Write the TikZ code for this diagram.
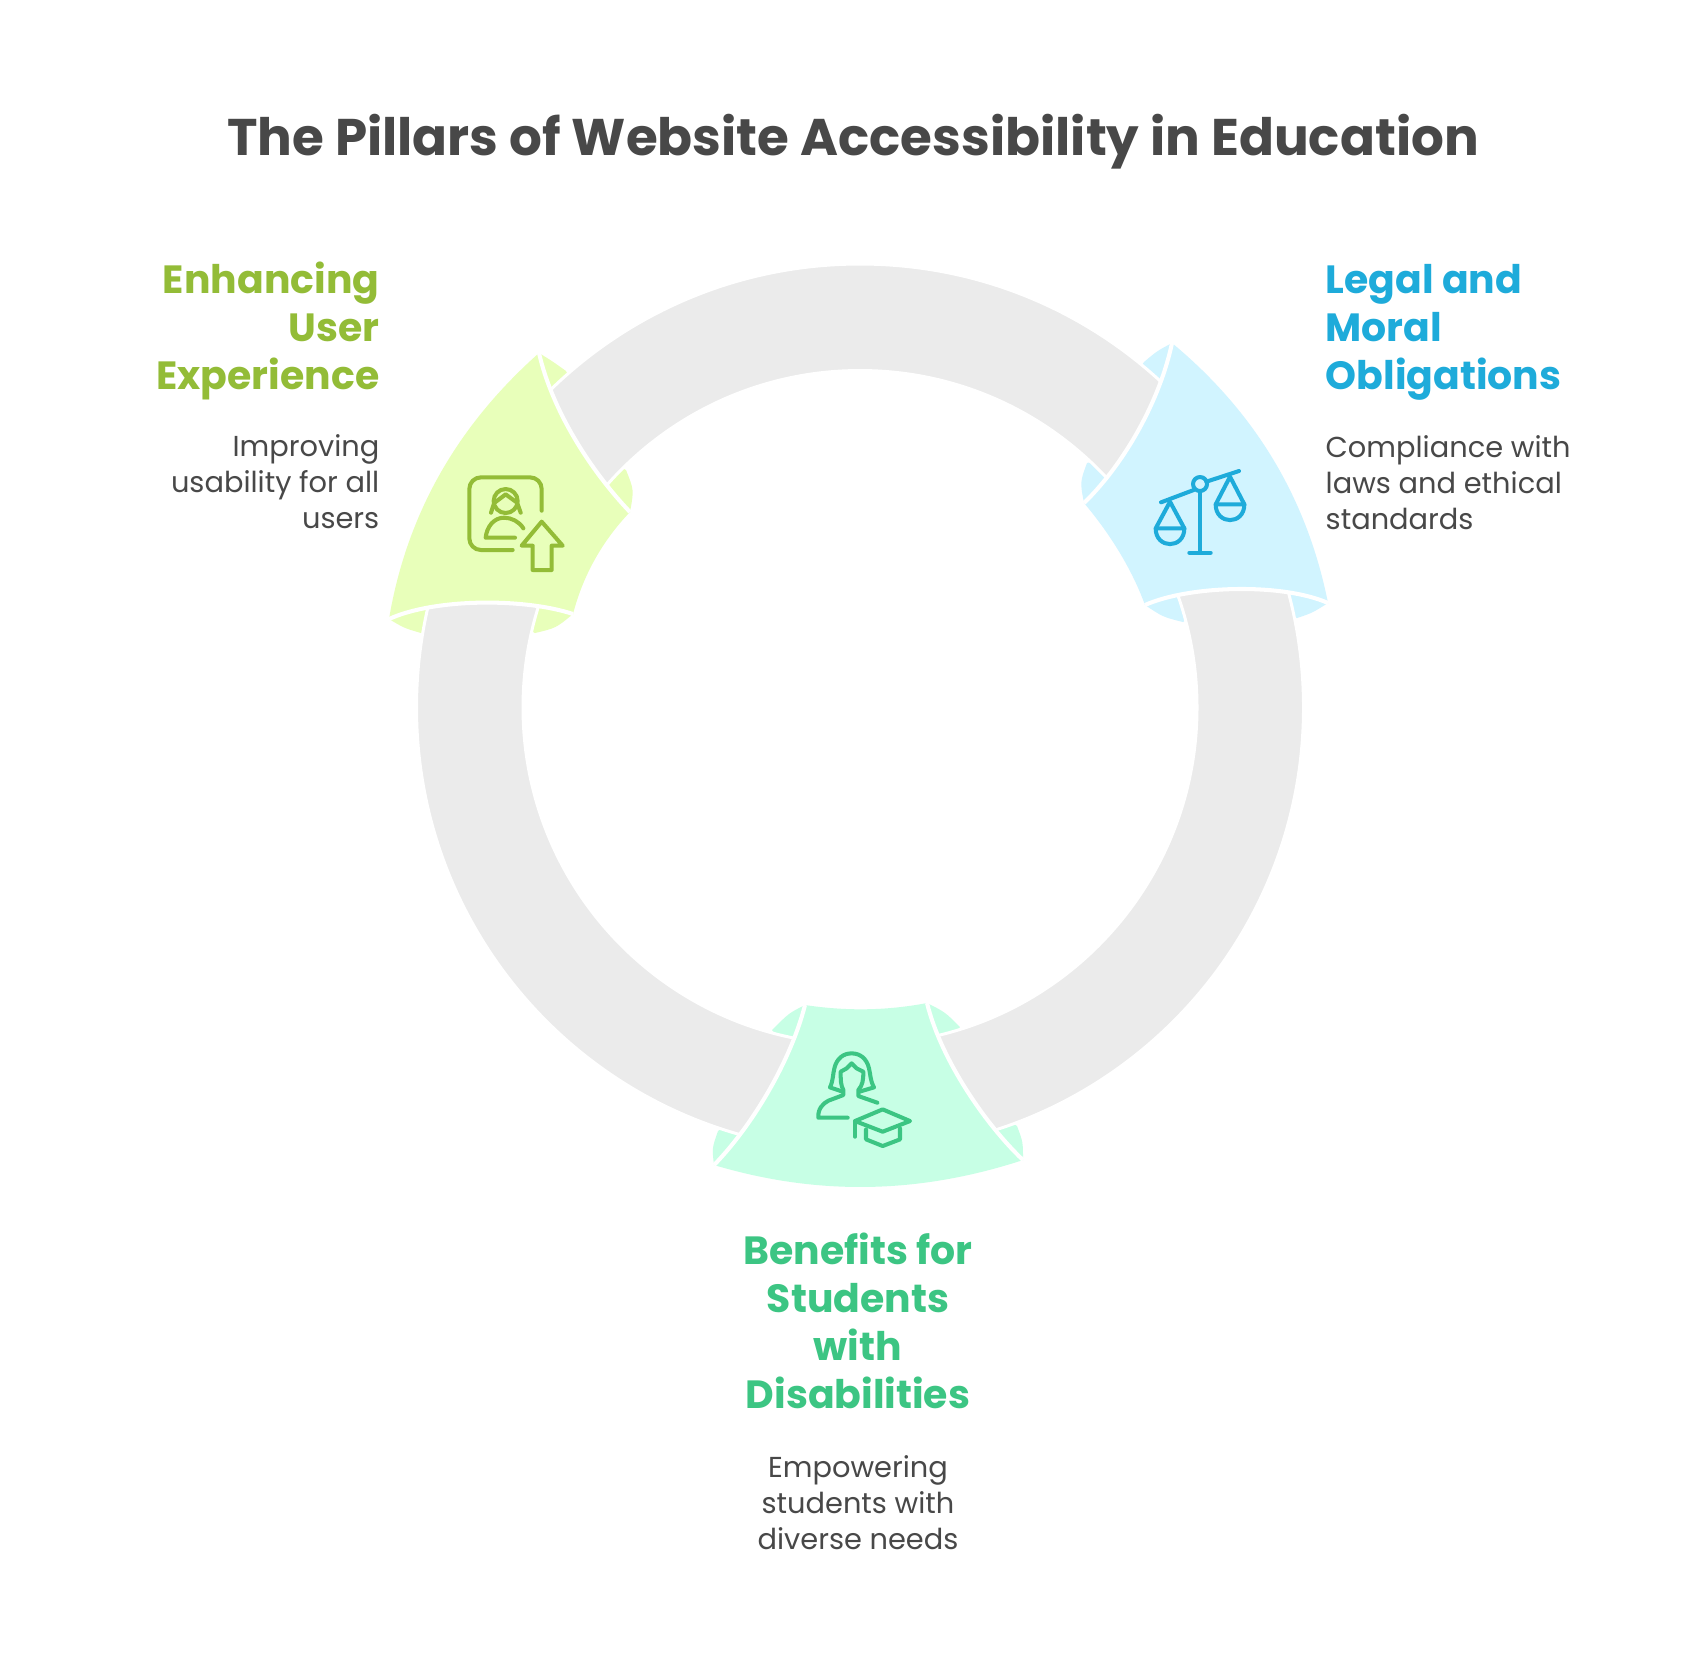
\documentclass[tikz,border=0pt]{standalone}
\usepackage{fontspec}
\setmainfont{Poppins}
\definecolor{ringgray}{HTML}{EBEBEB}
\definecolor{inktext}{HTML}{484848}
\definecolor{limefill}{HTML}{E8FFBA}
\definecolor{limeink}{HTML}{93BC37}
\definecolor{skyfill}{HTML}{D1F4FF}
\definecolor{skyink}{HTML}{1EABDA}
\definecolor{mintfill}{HTML}{C7FFE5}
\definecolor{mintink}{HTML}{3CC583}
\tikzset{
  gapline/.style={draw=white,line width=1.15pt},
  iconline/.style={line width=1.15pt,line cap=round,line join=round},
  headtext/.style={font=\fontsize{11.2}{13.66}\selectfont\bfseries,inner sep=0pt},
  bodytext/.style={font=\fontsize{8.2}{10.24}\selectfont,text=inktext,inner sep=0pt}
}
\begin{document}
\begin{tikzpicture}[x=0.01cm,y=-0.01cm]
  \useasboundingbox (0,0) rectangle (1704,1656);
  \fill[white] (0,0) rectangle (1704,1656);
  \node (title) [font=\fontsize{14.66}{16}\selectfont\bfseries,text=inktext,inner sep=0pt] at (853,142) {The Pillars of Website Accessibility in Education};
  % side pieces under the ring
  \fill[limefill] (539,353) .. controls (552,361) .. (566,371) -- (572,385) -- (540,400) -- cycle;
  \fill[limefill] (630,512) .. controls (634,490) .. (626,470) -- (615,465) -- (600,500) -- cycle;
  \fill[limefill] (389,619) .. controls (404,628) .. (421,633) -- (440,620) -- (430,600) -- cycle;
  \fill[limefill] (573,614) .. controls (556,628) .. (535,633) -- (520,625) -- (530,600) -- cycle;
  \fill[skyfill] (1172,343) .. controls (1157,351) .. (1144,362) -- (1135,375) -- (1170,400) -- cycle;
  \fill[skyfill] (1084,503) .. controls (1080,482) .. (1087,463) -- (1100,460) -- (1120,490) -- cycle;
  \fill[skyfill] (1145,605) .. controls (1163,617) .. (1183,622) -- (1200,610) -- (1180,590) -- cycle;
  \fill[skyfill] (1328,603) .. controls (1312,613) .. (1297,618) -- (1280,610) -- (1290,590) -- cycle;
  \fill[mintfill] (805,1005) .. controls (789,1013) .. (772,1030) -- (785,1045) -- (815,1030) -- cycle;
  \fill[mintfill] (927,1003) .. controls (945,1012) .. (960,1027) -- (945,1045) -- (910,1030) -- cycle;
  \fill[mintfill] (714,1165) .. controls (712,1148) .. (718,1131) -- (735,1120) -- (760,1150) -- cycle;
  \fill[mintfill] (1023,1160) .. controls (1023,1142) .. (1017,1126) -- (1000,1115) -- (975,1150) -- cycle;
  % ring
  \draw[fill=ringgray,draw=white,line width=0.85pt,even odd rule] (860,707.5) circle (443.5) (860,707.5) circle (337);
  % petals
  \fill[limefill] (539,353) .. controls (459,424) and (407,512) .. (389,619)
    .. controls (435,598) and (525,598) .. (573,614)
    .. controls (583,575) and (603,540) .. (630,512)
    .. controls (590,470) and (552,410) .. cycle;
  \draw[gapline] (630,512) .. controls (590,470) and (552,410) .. (539,353);
  \draw[gapline] (389,619) .. controls (435,598) and (525,598) .. (573,614);
  \fill[skyfill] (1172,343) .. controls (1255,412) and (1307,498) .. (1328,603)
    .. controls (1283,583) and (1190,585) .. (1145,605)
    .. controls (1133,572) and (1112,536) .. (1084,503)
    .. controls (1125,463) and (1160,400) .. cycle;
  \draw[gapline] (1084,503) .. controls (1125,463) and (1160,400) .. (1172,343);
  \draw[gapline] (1328,603) .. controls (1283,583) and (1190,585) .. (1145,605);
  \fill[mintfill] (805,1005) .. controls (845,1011) and (885,1011) .. (927,1003)
    .. controls (941,1060) and (986,1125) .. (1023,1160)
    .. controls (919,1194) and (818,1196) .. (714,1165)
    .. controls (753,1125) and (791,1060) .. cycle;
  \draw[gapline] (927,1003) .. controls (941,1060) and (986,1125) .. (1023,1160);
  \draw[gapline] (714,1165) .. controls (753,1125) and (791,1060) .. (805,1005);
  % icons
  \begin{scope}[shift={(370,330)},scale=1/3,iconline,draw=limeink]
    \draw[rounded corners=3.3pt] (515,542) -- (515,442) -- (298,442) -- (298,660) -- (428,660);
    \draw (407,513) circle (36);
    \draw (375,517) -- (407,493) -- (440,517);
    \draw (372,520) -- (363,548);
    \draw (442,520) -- (452,548);
    \draw (435,623) -- (347,623) .. controls (350,590) and (372,563) .. (402,563) .. controls (425,563) and (448,575) .. (460,595);
    \draw (515,575) -- (578,647) -- (545,647) -- (545,720) -- (488,720) -- (488,647) -- (455,647) -- cycle;
  \end{scope}
  \begin{scope}[shift={(1060,320)},scale=1/3,iconline,draw=skyink]
    \draw (420,513) -- (420,698);
    \draw (388,698) -- (452,698);
    \draw (420,492) circle (21);
    \draw (303,547) -- (401,510);
    \draw (439,485) -- (537,453);
    \draw (287,625) -- (330,545) -- (373,625);
    \draw (287,625) -- (373,625) .. controls (373,688) and (287,688) .. cycle;
    \draw (467,553) -- (510,470) -- (553,553);
    \draw (467,553) -- (553,553) .. controls (553,616) and (467,616) .. cycle;
  \end{scope}
  \begin{scope}[shift={(800,1040)},scale=1/3,iconline,draw=mintink]
    \draw (128,155) -- (90,142) .. controls (100,120) and (98,105) .. (103,85) .. controls (110,55) and (130,40) .. (155,40) .. controls (180,40) and (200,55) .. (207,85) .. controls (212,105) and (210,120) .. (222,142) -- (178,155);
    \draw (143,233) -- (55,233) .. controls (53,205) and (70,190) .. (85,182) -- (130,165) -- (130,150) .. controls (122,135) and (122,120) .. (122,95) -- (140,85) -- (155,70) -- (170,85) -- (190,95) .. controls (190,120) and (188,135) .. (175,150) -- (175,168) -- (232,188);
    \draw (165,243) -- (248,208) -- (330,243) -- (248,275) -- cycle;
    \draw (165,243) -- (165,290);
    \draw (198,268) -- (198,298) -- (248,318) -- (300,298) -- (300,265);
  \end{scope}
  % labels
  \node (userhead) [headtext,text=limeink,align=right,anchor=north east] at (380,261) {Enhancing\\User\\Experience};
  \node (usertext) [bodytext,align=right,anchor=north east] at (380,434) {Improving\\usability for all\\users};
  \node (legalhead) [headtext,text=skyink,align=left,anchor=north west] at (1325,264) {Legal and\\Moral\\Obligations};
  \node (legaltext) [bodytext,align=left,anchor=north west] at (1325,435) {Compliance with\\laws and ethical\\standards};
  \node (studenthead) [headtext,text=mintink,align=center,anchor=north] at (858,1232) {Benefits for\\Students\\with\\Disabilities};
  \node (studenttext) [bodytext,align=center,anchor=north] at (858,1455) {Empowering\\students with\\diverse needs};
\end{tikzpicture}
\end{document}
